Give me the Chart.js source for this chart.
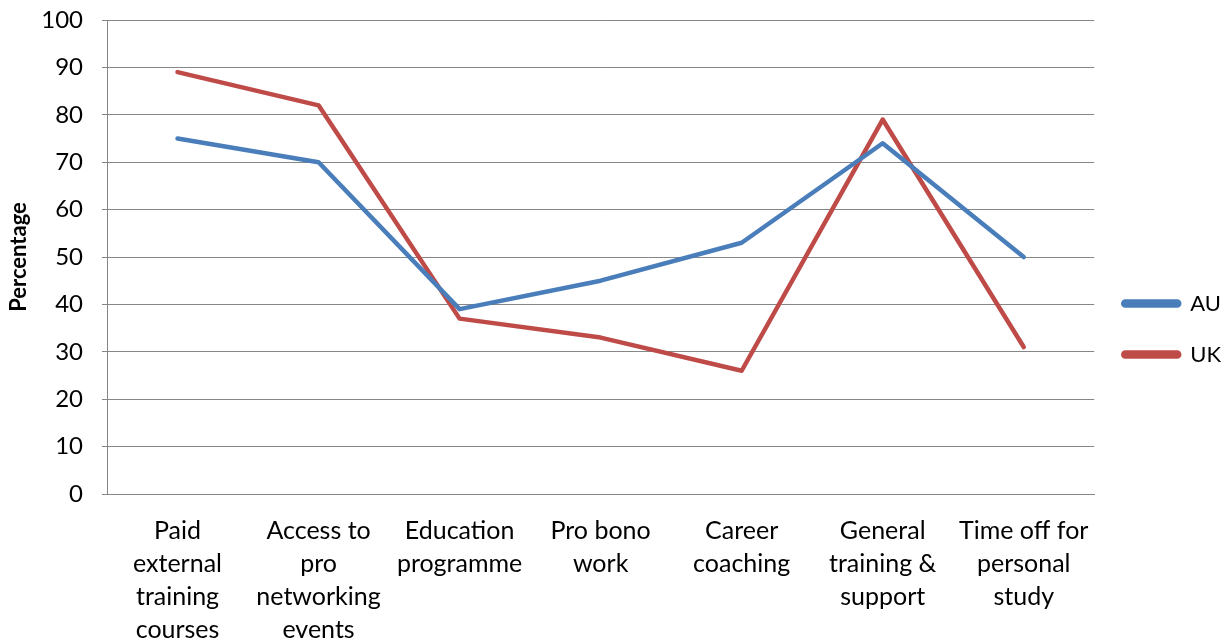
<!DOCTYPE html>
<html>
<head>
<meta charset="utf-8">
<script src="https://cdn.jsdelivr.net/npm/chart.js@4"></script>
<style>
  html, body { margin: 0; padding: 0; background: #fff; }
  #wrap { width: 1231px; height: 638px; }
</style>
</head>
<body>
<div id="wrap"><canvas id="chart" width="1231" height="638"></canvas></div>
<script>
// categories (split into lines like the original)
const categories = [
  ["Paid", "external", "training", "courses"],
  ["Access to", "pro", "networking", "events"],
  ["Education", "programme"],
  ["Pro bono", "work"],
  ["Career", "coaching"],
  ["General", "training &", "support"],
  ["Time off for", "personal", "study"]
];
const auValues = [75, 70, 39, 45, 53, 74, 50];
const ukValues = [89, 82, 37, 33, 26, 79, 31];
const yTicks = [0, 10, 20, 30, 40, 50, 60, 70, 80, 90, 100];

const fontFamily = "Lato, 'Open Sans', sans-serif";

const config = {
  type: 'line',
  data: {
    labels: categories,
    datasets: [
      {
        label: 'AU',
        data: auValues,
        borderColor: '#4A7EBB',
        backgroundColor: '#4A7EBB',
        borderWidth: 4.5,
        pointRadius: 0,
        tension: 0,
        borderCapStyle: 'round',
        borderJoinStyle: 'round'
      },
      {
        label: 'UK',
        data: ukValues,
        borderColor: '#BE4B48',
        backgroundColor: '#BE4B48',
        borderWidth: 4.5,
        pointRadius: 0,
        tension: 0,
        borderCapStyle: 'round',
        borderJoinStyle: 'round'
      }
    ]
  },
  options: {
    responsive: false,
    animation: false,
    layout: { padding: { top: 20, right: 0, bottom: 0, left: 0 } },
    plugins: {
      legend: {
        display: true,
        position: 'right',
        labels: {
          boxWidth: 56,
          boxHeight: 4,
          useBorderRadius: true,
          borderRadius: 2,
          padding: 29,
          color: '#000',
          font: { family: fontFamily, size: 22 }
        }
      },
      tooltip: { enabled: false }
    },
    scales: {
      x: {
        offset: true,
        grid: { display: false, drawTicks: false },
        border: { display: true, color: '#868686', width: 1 },
        afterFit: function(axis) {
          axis.height = 144;
        },
        ticks: {
          color: '#000',
          padding: 20,
          maxRotation: 0,
          autoSkip: false,
          font: { family: fontFamily, size: 25, lineHeight: 1.32 }
        }
      },
      y: {
        min: 0,
        max: 100,
        afterBuildTicks: function(axis) {
          axis.ticks = yTicks.map(v => ({ value: v }));
        },
        afterFit: function(axis) {
          axis.width = 107;
          axis.paddingTop = 0;
          axis.paddingBottom = 0;
        },
        grid: { color: '#868686', lineWidth: 1, tickLength: 5 },
        border: { display: true, color: '#868686', width: 1 },
        ticks: {
          color: '#000',
          padding: 19,
          font: { family: fontFamily, size: 24 }
        },
        title: {
          display: true,
          text: 'Percentage',
          color: '#000',
          padding: { top: 6, bottom: 4 },
          font: { family: fontFamily, size: 22, weight: 'bold' }
        }
      }
    }
  }
};

const myChart = new Chart(document.getElementById('chart'), config);
</script>
</body>
</html>
